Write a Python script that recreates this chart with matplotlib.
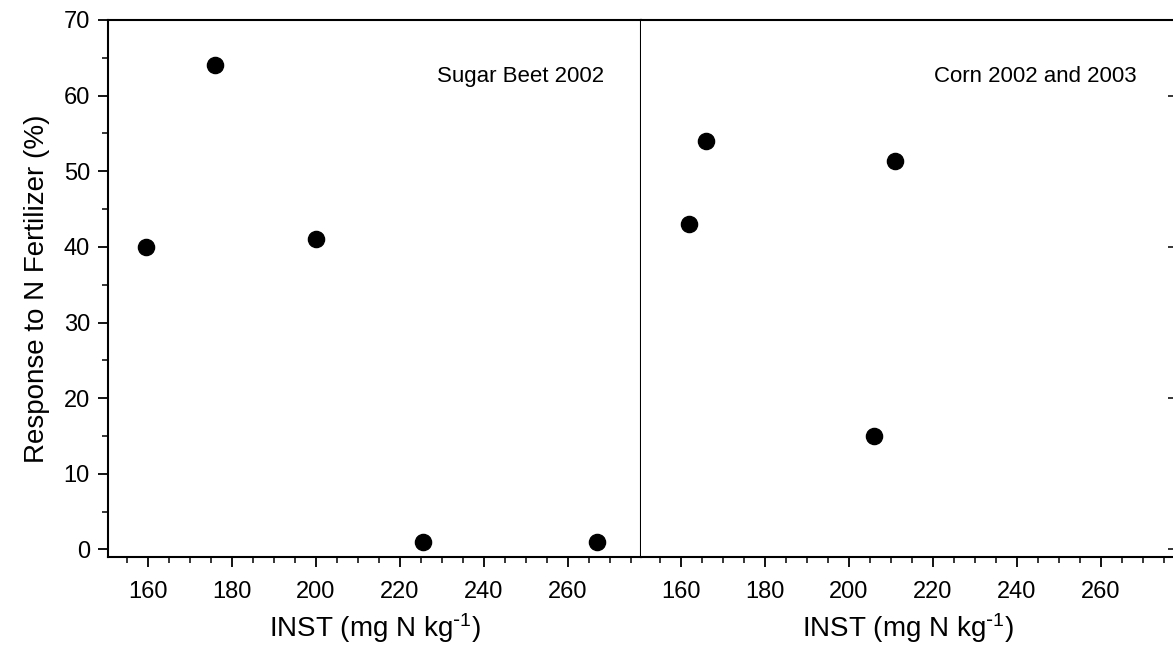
import matplotlib
matplotlib.use("Agg")
import matplotlib.pyplot as plt
from matplotlib.ticker import MultipleLocator

plt.rcParams["font.family"] = ["Liberation Sans", "DejaVu Sans"]
plt.rcParams["mathtext.default"] = "regular"

# sugar beet 2002
beet_inst = [159.5, 176, 200, 225.5, 267]
beet_resp = [40, 64, 41, 1, 1]

# corn 2002 and 2003
corn_inst = [162, 166, 206, 211]
corn_resp = [43, 54, 15, 51.3]

xticks = [160, 180, 200, 220, 240, 260]
yticks = [0, 10, 20, 30, 40, 50, 60, 70]

fig = plt.figure(figsize=(11.73, 6.49), dpi=100)
ax1 = fig.add_axes([0.0921, 0.1418, 0.4544, 0.8274])
ax2 = fig.add_axes([0.5465, 0.1418, 0.4544, 0.8274])

for ax in (ax1, ax2):
    ax.set_xlim(150.5, 277.5)
    ax.set_ylim(-1, 70)
    ax.set_xticks(xticks)
    ax.xaxis.set_minor_locator(MultipleLocator(5))
    ax.tick_params(axis="x", which="major", direction="out", length=7, width=1.3,
                   labelsize=17, pad=10)
    ax.tick_params(axis="x", which="minor", direction="out", length=4, width=1.1)
    for s in ax.spines.values():
        s.set_linewidth(1.5)
    ax.set_xlabel("INST (mg N kg$^{\\text{-}1}$)", fontsize=20, labelpad=6)

ax1.scatter(beet_inst, beet_resp, s=135, color="black", zorder=3)
ax2.scatter(corn_inst, corn_resp, s=135, color="black", zorder=3)

ax1.set_yticks(yticks)
ax1.yaxis.set_minor_locator(MultipleLocator(5))
ax1.tick_params(axis="y", which="major", direction="out", length=7, width=1.3,
                labelsize=17, pad=6)
ax1.tick_params(axis="y", which="minor", direction="out", length=4, width=1.1)
ax1.set_ylabel("Response to N Fertilizer (%)", fontsize=20, labelpad=10)

ax2.spines["left"].set_visible(False)
ax2.set_yticks([0, 20, 40, 60])
ax2.tick_params(axis="y", left=False, labelleft=False, right=True,
                direction="in", length=4, width=1.1)

ax1.text(0.93, 0.895, "Sugar Beet 2002", transform=ax1.transAxes,
         ha="right", va="center", fontsize=16)
ax2.text(0.93, 0.895, "Corn 2002 and 2003", transform=ax2.transAxes,
         ha="right", va="center", fontsize=16)

fig.savefig("out.png", dpi=100)
